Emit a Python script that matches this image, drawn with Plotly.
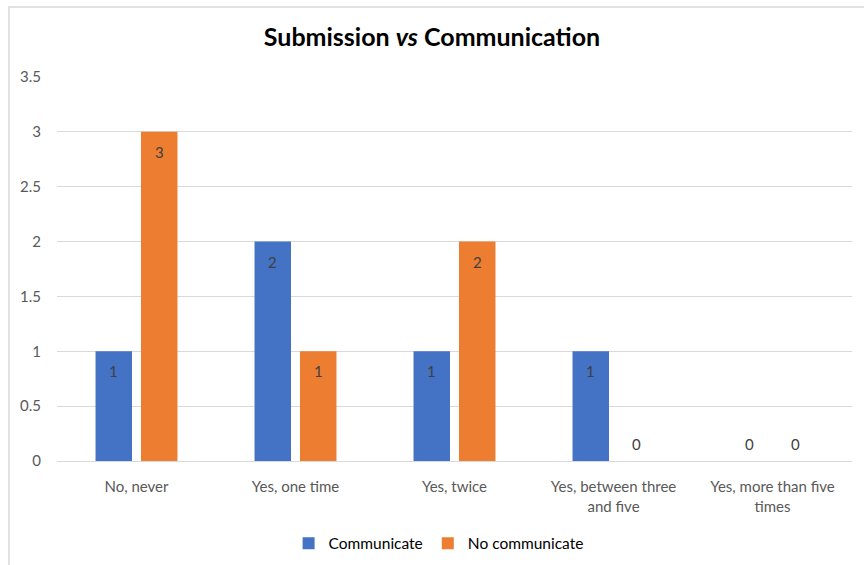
import plotly.graph_objects as go

categories = ["No, never", "Yes, one time", "Yes, twice",
              "Yes, between three<br>and five", "Yes, more than five<br>times"]
communicate = [1, 2, 1, 1, 0]
no_communicate = [3, 1, 2, 0, 0]

BLUE = "#4472C4"
ORANGE = "#ED7D31"
GRID = "#D9D9D9"
TEXT = "#595959"
FONT = "Lato, 'Open Sans', sans-serif"

fig = go.Figure()
fig.add_trace(go.Bar(name="Communicate", x=categories, y=communicate,
                     marker=dict(color=BLUE, line=dict(width=0))))
fig.add_trace(go.Bar(name="No communicate", x=categories, y=no_communicate,
                     marker=dict(color=ORANGE, line=dict(width=0))))

# value labels: inside the top of each bar, or just above the axis for zeros
annotations = []
for vals, shift in ((communicate, -22.75), (no_communicate, 22.75)):
    for cat, v in zip(categories, vals):
        annotations.append(dict(
            x=cat, y=v, xref="x", yref="y", text=str(v), showarrow=False,
            xshift=shift, yshift=(-20 if v > 0 else 17),
            font=dict(family=FONT, size=15, color="#404040")))

fig.update_layout(
    width=864, height=565,
    margin=dict(l=57, r=12, t=77, b=104, autoexpand=False),
    paper_bgcolor="white", plot_bgcolor="white",
    font=dict(family=FONT, size=15, color=TEXT),
    title=dict(text="<b>Submission <i>vs</i> Communication</b>",
               x=0.5, xanchor="center", y=1 - 37 / 565, yanchor="middle",
               font=dict(family=FONT, size=25, color="black")),
    barmode="group", bargap=0.428, bargroupgap=0.198,
    showlegend=True,
    legend=dict(orientation="h", x=0.48, xanchor="center", y=-0.215,
                yanchor="middle", font=dict(family=FONT, size=15.5, color="black"),
                itemwidth=30, tracegroupgap=0),
    annotations=annotations,
    shapes=[dict(type="rect", xref="paper", yref="paper",
                 x0=(9 - 57) / 795, x1=1.2, y0=-0.6, y1=1 + (77 - 7) / 384,
                 line=dict(color=GRID, width=1.5), layer="below")],
)
fig.update_xaxes(showgrid=False, showline=False, ticks="", ticklabelstandoff=15,
                 automargin=False,
                 tickfont=dict(family=FONT, size=15, color=TEXT))
fig.update_yaxes(range=[0, 3.5], dtick=0.5, showgrid=True, gridcolor=GRID,
                 gridwidth=1, zeroline=True, zerolinecolor=GRID, zerolinewidth=1,
                 showline=False, ticks="", ticklabelstandoff=15, automargin=False,
                 tickfont=dict(family=FONT, size=15, color=TEXT))

fig.write_html("out.html")
